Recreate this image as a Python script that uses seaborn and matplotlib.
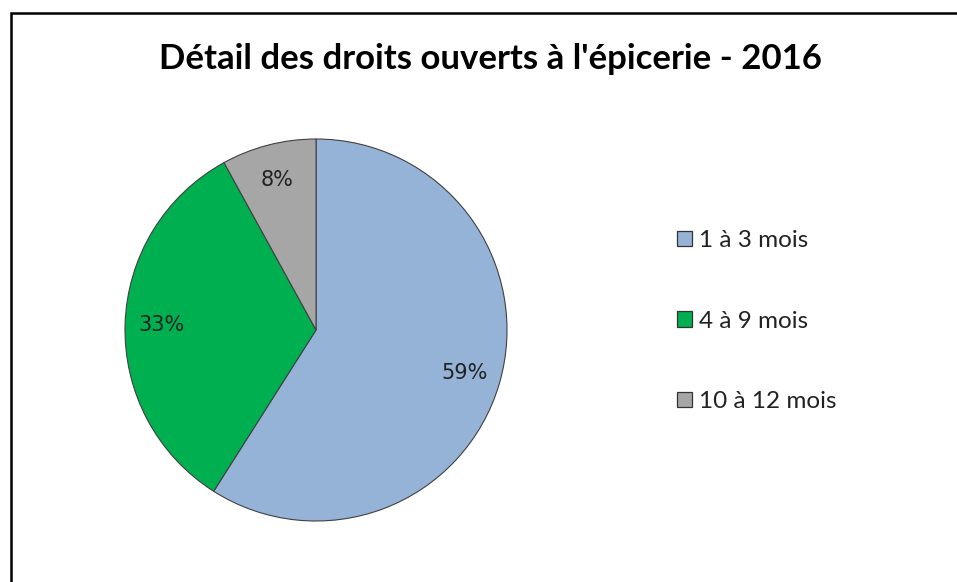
import matplotlib
matplotlib.use("Agg")
import matplotlib.pyplot as plt
import seaborn as sns
from matplotlib.patches import Rectangle

# data
categories = ["1 à 3 mois", "4 à 9 mois", "10 à 12 mois"]
shares = [59, 33, 8]
colors = ["#95B3D7", "#00B050", "#A6A6A6"]
title = "Détail des droits ouverts à l'épicerie - 2016"

sns.set_theme(style="white")
plt.rcParams["font.family"] = ["Lato", "DejaVu Sans"]

W, H = 957, 582
fig = plt.figure(figsize=(W / 100, H / 100), dpi=100)

# pie centre and radius in pixels
cx, cy, r = 316, 330, 191
lim = 1.1
half = r * lim
ax = fig.add_axes([(cx - half) / W, (H - cy - half) / H, 2 * half / W, 2 * half / H])

wedges, texts, autotexts = ax.pie(
    shares, colors=colors, startangle=90, counterclock=False,
    autopct="%.0f%%", pctdistance=0.81,
    wedgeprops={"edgecolor": "#404040", "linewidth": 0.8},
    textprops={"fontsize": 15, "color": "#222222", "family": ["DejaVu Sans"]},
)
ax.set_xlim(-lim, lim)
ax.set_ylim(-lim, lim)
ax.set_aspect("equal")
ax.axis("off")

fig.text(490 / W, 1 - 59 / H, title, ha="center", va="center",
         fontsize=25, fontweight="bold", color="black")

leg = fig.legend(wedges, categories, loc="upper left",
                 bbox_to_anchor=(677 / W, 1 - 230 / H),
                 frameon=False, fontsize=17.5, handlelength=0.6, handleheight=0.6,
                 handletextpad=0.3, labelspacing=2.45, borderpad=0,
                 borderaxespad=0)
for h in leg.legend_handles:
    h.set_edgecolor("#333333")
    h.set_linewidth(0.9)
for t in leg.get_texts():
    t.set_color("#222222")

# outer chart frame (only top and left edges visible in the crop)
fig.patches.append(Rectangle((11 / W, -0.1), 1.2, 1 - 13 / H + 0.1,
                             transform=fig.transFigure, fill=False,
                             edgecolor="black", linewidth=1.8))

fig.savefig("out.png", dpi=100)
